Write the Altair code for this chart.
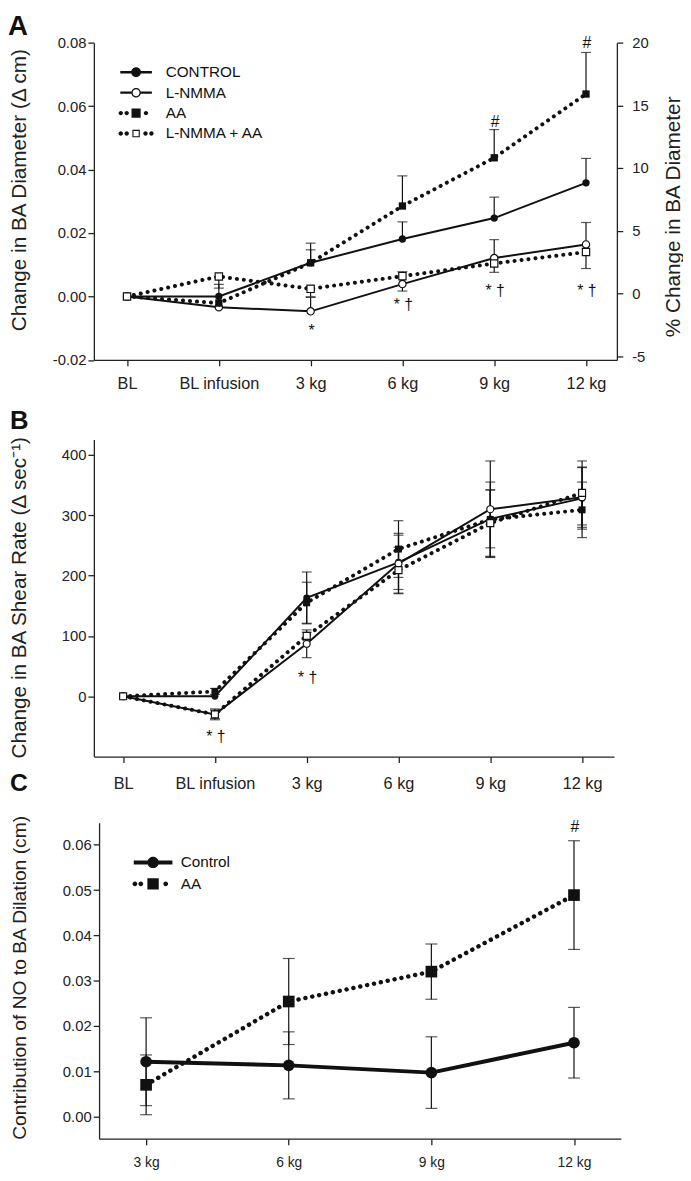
import altair as alt
import pandas as pd

FONT = "Liberation Sans"
INK = "#111111"
AXC = "#222222"

# ---------------- data: panel A ----------------
cats_A = ["BL", "BL infusion", "3 kg", "6 kg", "9 kg", "12 kg"]
series_A = ["CONTROL", "L-NMMA", "AA", "L-NMMA + AA"]
a_control = [0.0, 0.0, 0.0106, 0.0181, 0.0247, 0.0358]
a_control_err = [0.0, 0.0038, 0.0041, 0.0054, 0.0066, 0.0077]
a_lnmma = [0.0, -0.0034, -0.0047, 0.0039, 0.0121, 0.0164]
a_lnmma_err = [0.0, 0.0, 0.0044, -0.0022, 0.0058, 0.0069]
a_aa = [0.0, -0.0021, 0.0106, 0.0285, 0.0437, 0.0638]
a_aa_err = [0.0, 0.0, 0.0062, 0.0095, 0.0089, 0.0131]
a_lnaa = [0.0, 0.0063, 0.0024, 0.0064, 0.0104, 0.0140]
a_lnaa_err = [0.0, -0.0037, -0.0025, 0.0014, -0.0028, -0.0052]
a_left_ticks = [-0.02, 0.0, 0.02, 0.04, 0.06, 0.08]
a_right_ticks = [-5, 0, 5, 10, 15, 20]
a_ann_cat = ["3 kg", "6 kg", "9 kg", "12 kg", "9 kg", "12 kg"]
a_ann_text = ["*", "* †", "* †", "* †", "#", "#"]
a_ann_y = [-0.0109, -0.0027, 0.0016, 0.0016, 0.0549, 0.0800]

# ---------------- data: panel B ----------------
cats_B = cats_A
b_control = [0, 0, 163, 222, 294, 328]
b_control_se = [0, 0, 43, 45, 48, 51]
b_lnmma = [0, -30, 87, 220, 310, 330]
b_lnmma_se = [0, 9, 23, 50, 80, 50]
b_aa = [0, 8, 155, 244, 293, 309]
b_aa_se = [0, 5, 34, 47, 62, 46]
b_lnaa = [0, -30, 100, 209, 287, 337]
b_lnaa_se = [0, 7, 6, 38, 55, 53]
b_ticks = [0, 100, 200, 300, 400]
b_ann_cat = ["BL infusion", "3 kg"]
b_ann_text = ["* †", "* †"]
b_ann_y = [-67, 31]

# ---------------- data: panel C ----------------
cats_C = ["3 kg", "6 kg", "9 kg", "12 kg"]
series_C = ["Control", "AA"]
c_control = [0.0121, 0.0113, 0.0097, 0.0163]
c_control_se = [0.0097, 0.0074, 0.0079, 0.0078]
c_aa = [0.0070, 0.0254, 0.0320, 0.0489]
c_aa_se = [0.0066, 0.0095, 0.0061, 0.0120]
c_ticks = [0.0, 0.01, 0.02, 0.03, 0.04, 0.05, 0.06]
c_ann_cat = ["12 kg"]
c_ann_text = ["#"]
c_ann_y = [0.0640]


def one_sided(cats, names, vals, errs):
    rows, caps = [], []
    for n, vs, es in zip(names, vals, errs):
        for c, v, e in zip(cats, vs, es):
            rows.append({"cat": c, "series": n, "v": v,
                         "lo": min(v, v + e), "hi": max(v, v + e)})
            if e != 0:
                caps.append({"cat": c, "series": n, "cy": v + e})
    return pd.DataFrame(rows), pd.DataFrame(caps)


def two_sided(cats, names, vals, ses):
    rows, caps = [], []
    for n, vs, es in zip(names, vals, ses):
        for c, v, e in zip(cats, vs, es):
            rows.append({"cat": c, "series": n, "v": v, "lo": v - e, "hi": v + e})
            if e != 0:
                caps.append({"cat": c, "series": n, "cy": v - e})
                caps.append({"cat": c, "series": n, "cy": v + e})
    return pd.DataFrame(rows), pd.DataFrame(caps)


def circ(cx, r, cw=True):
    s = 1 if cw else 0
    return f"M{cx + r:.3f},0A{r},{r} 0 1 {s} {cx - r:.3f},0A{r},{r} 0 1 {s} {cx + r:.3f},0Z"


def rect(x1, x2, h):
    return f"M{x1},{-h}H{x2}V{h}H{x1}Z"


def sq(a):
    return f"M{-a},{-a}H{a}V{a}H{-a}Z"


def sq_ccw(a):
    return f"M{-a},{-a}V{a}H{a}V{-a}Z"


# legend symbols (unit = 8 px)
dotsA = "".join(circ(x, 0.28) for x in (-1.94, -1.19, 1.19, 1.94))
dotsA3 = "".join(circ(x, 0.28) for x in (-1.94, -1.19, 1.25))
paths_A = [
    rect(-2, -0.5, 0.16) + rect(0.5, 2, 0.16) + circ(0, 0.62),
    rect(-2, -0.55, 0.14) + rect(0.55, 2, 0.14) + circ(0, 0.6) + circ(0, 0.44, cw=False),
    dotsA3 + sq(0.58),
    dotsA + sq(0.47) + sq_ccw(0.33),
]
paths_C = [
    rect(-2.45, -0.5, 0.25) + rect(0.5, 2.45, 0.25) + circ(0, 0.72),
    "".join(circ(x, 0.3) for x in (-2.3, -1.55, 1.6)) + sq(0.72),
]


def text_axis_common():
    return dict(grid=False, domainColor=AXC, domainWidth=1.3, tickColor=AXC,
                tickWidth=1.3, tickSize=6, labelFont=FONT, labelColor=AXC,
                titleFont=FONT, titleColor=AXC, titleFontWeight="normal")


def make_panel(names, df, caps, ann, styles, xscale, yscale, xaxis, yaxis,
               marker_size, cap_size, legend_layer=None):
    X = alt.X("cat:N", scale=xscale, axis=xaxis)

    def Y(f):
        return alt.Y(f, type="quantitative", scale=yscale, axis=yaxis)

    base = alt.Chart(df)
    layers = []
    for n in names:
        st = styles[n]
        if st["dotted"]:
            mk = base.mark_line(color=INK, strokeWidth=st["lw"], strokeDash=[0.1, st["gap"]],
                                strokeCap="round")
        else:
            mk = base.mark_line(color=INK, strokeWidth=st["lw"])
        layers.append(mk.transform_filter(alt.datum.series == n).encode(x=X, y=Y("v")))
    layers.append(base.transform_filter("datum.hi > datum.lo").mark_rule(
        color=INK, strokeWidth=1.2).encode(x=X, y=Y("lo"), y2=alt.Y2("hi")))
    layers.append(alt.Chart(caps).mark_tick(color=INK, size=cap_size, thickness=1.2).encode(
        x=X, y=Y("cy")))
    for n in names:
        st = styles[n]
        if st["open"]:
            mk = base.mark_point(shape=st["shape"], filled=True, fill="white", stroke=INK,
                                 strokeWidth=1.2, size=marker_size, opacity=1)
        else:
            mk = base.mark_point(shape=st["shape"], filled=True, color=INK,
                                 size=marker_size, opacity=1)
        layers.append(mk.transform_filter(alt.datum.series == n).encode(x=X, y=Y("v")))
    layers.append(alt.Chart(ann).mark_text(font=FONT, fontSize=16, color=INK,
                                           baseline="middle", align="center", dx=1).encode(
        x=X, y=Y("ty"), text="t:N"))
    if legend_layer is not None:
        layers.append(legend_layer)
    return alt.layer(*layers)


def legend_layer(names, paths, lx, ly, offset, rowpad):
    return alt.Chart(pd.DataFrame({"series": names})).transform_filter("false").mark_point(
        filled=True, color=INK, strokeWidth=0, opacity=1).encode(
        shape=alt.Shape("series:N", scale=alt.Scale(domain=names, range=paths),
                        legend=alt.Legend(title=None, orient="none", legendX=lx, legendY=ly,
                                          symbolSize=256, symbolFillColor=INK,
                                          symbolOpacity=1, symbolStrokeWidth=0,
                                          labelFont=FONT, labelFontSize=15.5,
                                          labelColor=INK, labelOffset=offset,
                                          rowPadding=rowpad, padding=0)))


# ---------------- panel A ----------------
dfA, capsA = one_sided(cats_A, series_A, [a_control, a_lnmma, a_aa, a_lnaa],
                       [a_control_err, a_lnmma_err, a_aa_err, a_lnaa_err])
annA = pd.DataFrame({"cat": a_ann_cat, "t": a_ann_text, "ty": a_ann_y})
stylesA = {
    "CONTROL": dict(dotted=False, lw=2, shape="circle", open=False),
    "L-NMMA": dict(dotted=False, lw=2, shape="circle", open=True),
    "AA": dict(dotted=True, lw=4, gap=7, shape="square", open=False),
    "L-NMMA + AA": dict(dotted=True, lw=4, gap=7, shape="square", open=True),
}
xscaleA = alt.Scale(type="point", domain=cats_A, padding=0.349, align=0.518)
yscaleA = alt.Scale(domain=[-0.02, 0.08], nice=False, zero=False)
xaxisA = alt.Axis(title=None, labelAngle=0, labelFontSize=16.5, labelPadding=10,
                  **text_axis_common())
yaxisA = alt.Axis(title="Change in BA Diameter (Δ cm)", values=a_left_ticks,
                  labelExpr="replace(format(datum.value, '.2f'), '\u2212', '-')",
                  labelFontSize=15, labelPadding=2, titleFontSize=21,
                  titleAngle=270, titleBaseline="middle", titleAlign="center",
                  titleX=-75, titleY=149, **text_axis_common())
leftA = make_panel(series_A, dfA, capsA, annA, stylesA, xscaleA, yscaleA, xaxisA, yaxisA,
                   55, 10, legend_layer=legend_layer(series_A, paths_A, 34.8, 22, 22, 3.7))
rightA = alt.Chart(pd.DataFrame({"cat": ["BL"] * len(a_right_ticks), "pct": a_right_ticks})).mark_point(
    opacity=0).encode(
    x=alt.X("cat:N", scale=xscaleA, axis=xaxisA),
    y=alt.Y("pct:Q", scale=alt.Scale(domain=[-5.3, 20], nice=False, zero=False),
            axis=alt.Axis(orient="right", title="% Change in BA Diameter", values=a_right_ticks,
                          labelExpr="replace(format(datum.value, 'd'), '\u2212', '-')",
                          labelFontSize=15, labelPadding=9, titleFontSize=21,
                          titleAngle=270, titleBaseline="middle", titleAlign="center",
                          titleX=57, titleY=176, **text_axis_common())))
chartA = alt.layer(leftA, rightA).resolve_scale(y="independent").properties(
    width=530, height=321.5,
    title=alt.TitleParams("A", anchor="start", frame="group", font=FONT, fontSize=28,
                          fontWeight="bold", color=INK, dx=-87, offset=0, dy=28,
                          baseline="alphabetic"))

# ---------------- panel B ----------------
dfB, capsB = two_sided(cats_B, series_A, [b_control, b_lnmma, b_aa, b_lnaa],
                       [b_control_se, b_lnmma_se, b_aa_se, b_lnaa_se])
annB = pd.DataFrame({"cat": b_ann_cat, "t": b_ann_text, "ty": b_ann_y})
xscaleB = alt.Scale(type="point", domain=cats_B, padding=0.333, align=0.479)
yscaleB = alt.Scale(domain=[-100, 425.5], range=[334.8, 13.5], nice=False, zero=False)
xaxisB = alt.Axis(title=None, labelAngle=0, labelFontSize=16.5, labelPadding=13.5,
                  **text_axis_common())
yaxisB = alt.Axis(title="Change in BA Shear Rate (Δ sec⁻¹)", values=b_ticks,
                  labelFontSize=15, labelPadding=2, titleFontSize=21,
                  titleAngle=270, titleBaseline="middle", titleAlign="center",
                  titleX=-75, titleY=173.3, **text_axis_common())
chartB = make_panel(series_A, dfB, capsB, annB, stylesA, xscaleB, yscaleB,
                    xaxisB, yaxisB, 50, 10).properties(
    width=527, height=334.8,
    title=alt.TitleParams("B", anchor="start", frame="group", font=FONT, fontSize=26,
                          fontWeight="bold", color=INK, dx=-85, offset=0, dy=29.1,
                          baseline="alphabetic"))

# ---------------- panel C ----------------
dfC, capsC = two_sided(cats_C, series_C, [c_control, c_aa], [c_control_se, c_aa_se])
annC = pd.DataFrame({"cat": c_ann_cat, "t": c_ann_text, "ty": c_ann_y})
stylesC = {
    "Control": dict(dotted=False, lw=4, shape="circle", open=False),
    "AA": dict(dotted=True, lw=4.5, gap=7, shape="square", open=False),
}
xscaleC = alt.Scale(type="point", domain=cats_C, range=[5.3, 534], padding=0.329, align=0.501)
yscaleC = alt.Scale(domain=[-0.0049, 0.0649], nice=False, zero=False)
xaxisC = alt.Axis(title=None, labelAngle=0, labelFontSize=14, labelPadding=11,
                  **text_axis_common())
yaxisC = alt.Axis(title="Contribution of NO to BA Dilation (cm)", values=c_ticks,
                  labelExpr="format(datum.value, '.2f')", offset=-5.3,
                  labelFontSize=15, labelPadding=2, titleFontSize=19.5,
                  titleAngle=270, titleBaseline="middle", titleAlign="center",
                  titleX=-80.6, titleY=156.8, **text_axis_common())
chartC = make_panel(series_C, dfC, capsC, annC, stylesC, xscaleC, yscaleC,
                    xaxisC, yaxisC, 140, 12,
                    legend_layer=legend_layer(series_C, paths_C, 52, 32.3, 20, 4.7)).properties(
    width=534, height=320.3,
    title=alt.TitleParams("C", anchor="start", frame="group", font=FONT, fontSize=25,
                          fontWeight="bold", color=INK, dx=-85, offset=0, dy=1.1,
                          baseline="alphabetic"))

chart = alt.vconcat(chartA, chartB, chartC, spacing=66.7, bounds="flush").resolve_scale(
    shape="independent").resolve_legend(shape="independent").properties(
    padding={"left": 0, "top": -2.7, "right": 0, "bottom": 0}
).configure(font=FONT).configure_view(stroke=None)

chart.save("out.html", embed_options={"renderer": "svg", "actions": False})
